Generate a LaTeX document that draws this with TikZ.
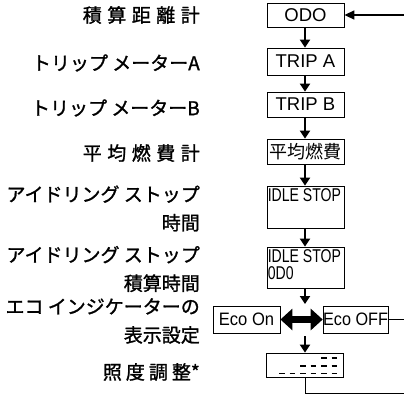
\documentclass[tikz,border=0pt]{standalone}
\usepackage{fontspec}
\setmainfont{Liberation Sans}
\newfontfamily\jpfont[FakeBold=1.2]{Noto Sans CJK JP}
\newfontfamily\jpboxfont{Noto Sans CJK JP}
\usetikzlibrary{arrows.meta}
\newcommand\cjkgap{\hspace{5.5pt}}
\newcommand\cond[1]{\scalebox{0.76}[1]{#1}}
\begin{document}
\begin{tikzpicture}[x=1pt,y=-1pt,
  box/.style={draw,line width=0.8pt,inner sep=0pt,minimum width=77pt,font=\fontsize{18.5}{18.5}\selectfont},
  lbl/.style={anchor=east,font=\jpfont\fontsize{19}{27.5}\selectfont,align=right,inner sep=0pt},
  arr/.style={-{Triangle[length=8pt,width=10pt]},line width=2pt},
  dashrow/.style={line width=1.5pt},
]
\useasboundingbox (0,0) rectangle (404,394);

% left labels
\node[lbl] (l1) at (200,15) {積\cjkgap 算\cjkgap 距\cjkgap 離\cjkgap 計};
\node[lbl] (l2) at (200,63) {トリップ メーターA};
\node[lbl] (l3) at (200,108) {トリップ メーターB};
\node[lbl] (l4) at (200,153) {平\cjkgap 均\cjkgap 燃\cjkgap 費\cjkgap 計};
\node[lbl] (l5) at (200,208.5) {アイドリング ストップ\\[1pt]時間};
\node[lbl] (l6) at (200,269) {アイドリング ストップ\\[1pt]積算時間};
\node[lbl] (l7) at (200,321) {エコ インジケーターの\\[1pt]表示設定};
\node[lbl] (l8) at (200,372) {照\hspace{4pt}度\hspace{4pt}調\hspace{4pt}整*};

% boxes
\node[box,minimum height=24pt] (odo) at (305.5,15) {ODO};
\node[box,minimum height=27pt] (tripa) at (305.5,61.5) {TRIP A};
\node[box,minimum height=25pt] (tripb) at (305.5,104.5) {TRIP B};
\node[box,minimum height=25pt,font=\jpboxfont\fontsize{18}{18}\selectfont] (fuel) at (305.5,151.5) {平均燃費};
\node[box,minimum height=42pt] (idle1) at (305.5,207) {};
\node[anchor=north west,inner sep=0pt,font=\fontsize{18.5}{18.5}\selectfont] (idle1t) at ([xshift=1pt,yshift=-2.5pt]idle1.north west) {\cond{IDLE STOP}};
\node[box,minimum height=41pt] (idle2) at (305.5,267.5) {};
\node[anchor=north west,inner sep=0pt,align=left,font=\fontsize{18.5}{17}\selectfont] (idle2t) at ([xshift=1pt,yshift=-2.5pt]idle2.north west) {\cond{IDLE STOP}\\\cond{0D0}};
\node[box,minimum width=67pt,minimum height=27pt,font=\fontsize{18}{18}\selectfont] (ecoon) at (246.5,319.5) {\scalebox{0.92}[1]{Eco On}};
\node[box,minimum width=59pt,minimum height=27pt,font=\fontsize{18}{18}\selectfont] (ecooff) at (355.5,319.5) {\scalebox{0.9}[1]{Eco OFF}};
\node[box,minimum height=24pt] (illum) at (304.5,365) {};

% dashes in illumination box
\foreach \i in {0,1} {\draw[dashrow] ({337-\i*10.5-5.5},358) -- ({337-\i*10.5},358);}
\foreach \i in {0,...,3} {\draw[dashrow] ({337-\i*10.5-5.5},366) -- ({337-\i*10.5},366);}
\foreach \i in {0,...,5} {\draw[dashrow] ({337-\i*10.5-5.5},373.5) -- ({337-\i*10.5},373.5);}

% connectors
\coordinate (inR) at (404,15);
\draw[-{Triangle[length=10pt,width=9pt]},line width=1.5pt] (inR) -- (odo.east);
\draw[arr] (odo.south -| 305,0) -- (tripa.north -| 305,0);
\draw[arr] (tripa.south -| 305,0) -- (tripb.north -| 305,0);
\draw[arr] (tripb.south -| 305,0) -- (fuel.north -| 305,0);
\draw[arr] (fuel.south -| 305,0) -- (idle1.north -| 305,0);
\draw[arr] (idle1.south -| 305,0) -- (idle2.north -| 305,0);
\coordinate (mid1) at (305,304);
\coordinate (mid2) at (305,336);
\draw[arr] (idle2.south -| 305,0) -- (mid1);
\draw[arr] (mid2) -- (illum.north -| 305,0);
\draw[{Triangle[length=12pt,width=21pt]}-{Triangle[length=12pt,width=21pt]},line width=7pt] (ecoon.east) -- (ecooff.west);
\coordinate (offR) at (404,319.5);
\draw[line width=0.8pt] (ecooff.east) -- (offR);
\coordinate (botR) at (404,393);
\draw[line width=0.8pt] (illum.south -| 305,0) |- (botR);
\end{tikzpicture}
\end{document}
